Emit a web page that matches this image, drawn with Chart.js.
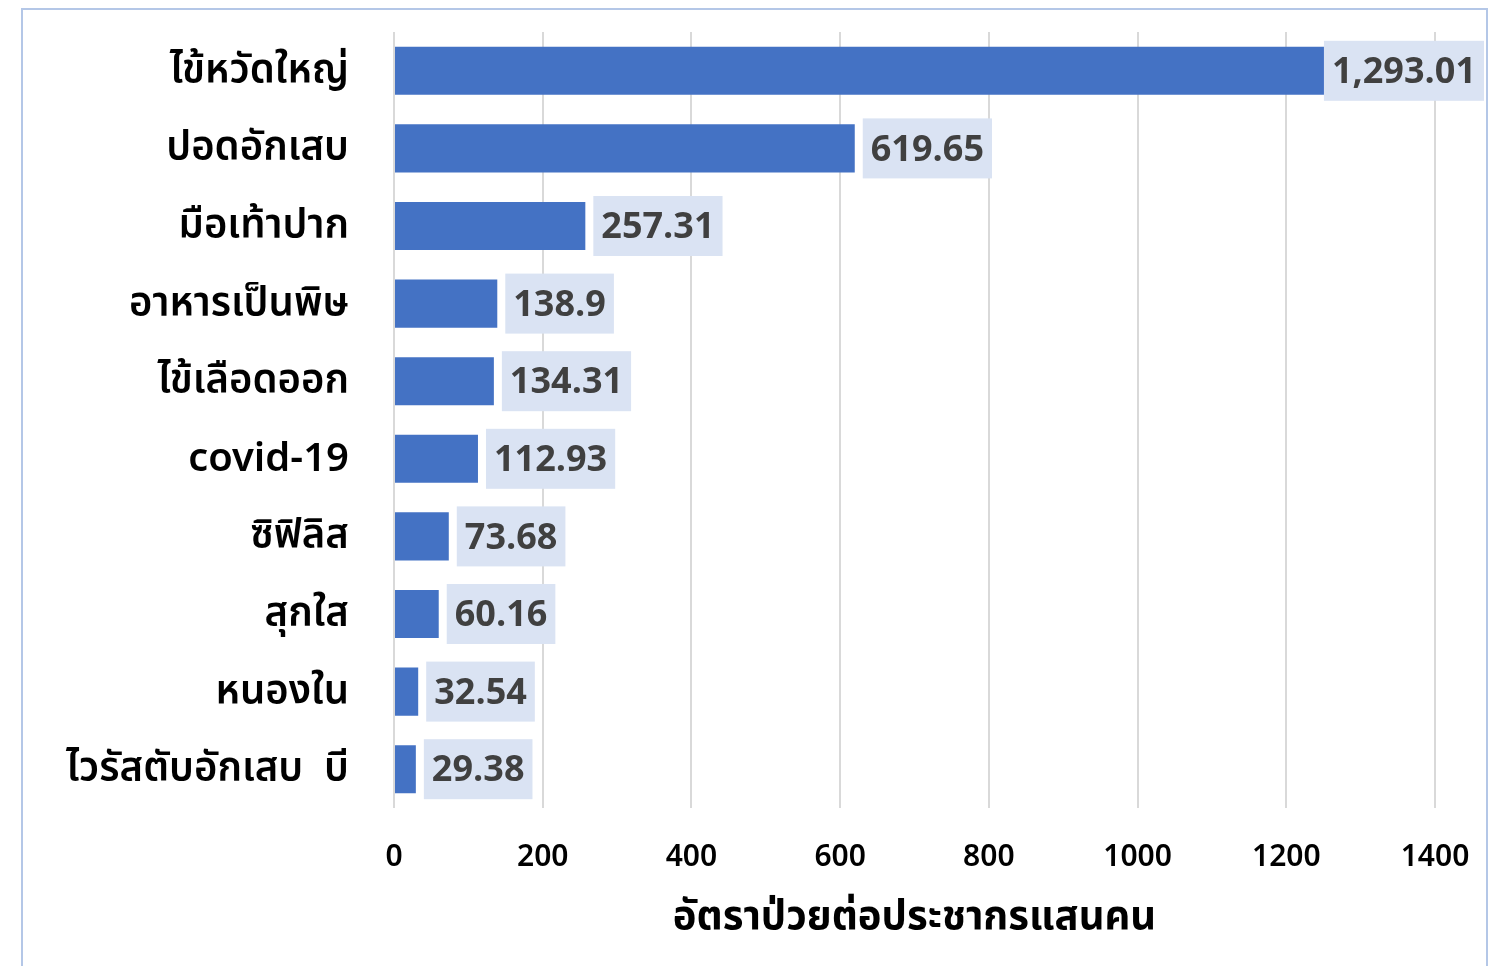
<!DOCTYPE html>
<html>
<head>
<meta charset="utf-8">
<script src="https://cdn.jsdelivr.net/npm/chart.js@4.4.1/dist/chart.umd.min.js"></script>
<style>
  body { margin: 0; background: #fff; }
  #wrap { position: relative; width: 1499px; height: 966px; overflow: hidden; }
  #frame { position: absolute; left: 21px; top: 8px; width: 1463px; height: 1000px; border: 2px solid #b4c7e7; }
  canvas { position: absolute; left: 0; top: 0; }
</style>
</head>
<body>
<div id="wrap">
  <div id="frame"></div>
  <canvas id="diseaseChart" width="1499" height="966"></canvas>
</div>
<script>
const diseases = ['ไข้หวัดใหญ่', 'ปอดอักเสบ', 'มือเท้าปาก', 'อาหารเป็นพิษ', 'ไข้เลือดออก', 'covid-19', 'ซิฟิลิส', 'สุกใส', 'หนองใน', 'ไวรัสตับอักเสบ  บี'];
const rates = [1293.01, 619.65, 257.31, 138.9, 134.31, 112.93, 73.68, 60.16, 32.54, 29.38];
const xTicks = [0, 200, 400, 600, 800, 1000, 1200, 1400];
const axisTitle = 'อัตราป่วยต่อประชากรแสนคน';

const FONT = '"Noto Sans Thai", "Noto Sans", sans-serif';

// value labels drawn in a light blue box right of each bar
const valueBoxes = {
  id: 'valueBoxes',
  afterDatasetsDraw(chart) {
    const ctx = chart.ctx;
    const meta = chart.getDatasetMeta(0);
    ctx.save();
    ctx.font = 'bold 36px ' + FONT;
    ctx.textBaseline = 'middle';
    meta.data.forEach((bar, i) => {
      const txt = rates[i].toLocaleString('en-US', { maximumFractionDigits: 2 });
      const w = ctx.measureText(txt).width + 16;
      const h = 60;
      let x = bar.x + 8;
      if (x + w > 1484) x = 1484 - w;
      ctx.fillStyle = '#dae3f3';
      ctx.fillRect(x, bar.y - h / 2, w, h);
      ctx.fillStyle = '#404040';
      ctx.fillText(txt, x + 8, bar.y + 5);
    });
    ctx.restore();
  }
};

const ctx = document.getElementById('diseaseChart').getContext('2d');
new Chart(ctx, {
  type: 'bar',
  data: {
    labels: diseases,
    datasets: [{
      data: rates,
      backgroundColor: '#4472c4',
      barPercentage: 0.62,
      categoryPercentage: 1
    }]
  },
  options: {
    indexAxis: 'y',
    responsive: false,
    animation: false,
    layout: { padding: { top: 32, right: 64, bottom: 17, left: 0 } },
    plugins: {
      legend: { display: false },
      tooltip: { enabled: false }
    },
    scales: {
      x: {
        min: 0,
        max: 1400,
        afterBuildTicks: scale => { scale.ticks = xTicks.map(v => ({ value: v })); },
        afterFit: scale => {
          scale.height = 141;
          scale.paddingLeft = 0;
          scale.paddingRight = 0;
        },
        grid: { color: '#d9d9d9', lineWidth: 2, drawTicks: false },
        border: { display: false },
        ticks: {
          color: '#000', padding: 34,
          font: { family: FONT, size: 30, weight: '600' },
          callback: v => String(v)
        },
        title: { display: true, text: axisTitle, color: '#000', font: { family: FONT, size: 40, weight: 'bold' } }
      },
      y: {
        afterFit: scale => {
          scale.width = 394;
          scale.paddingTop = 0;
          scale.paddingBottom = 0;
        },
        grid: { display: false, drawTicks: false },
        border: { display: false },
        ticks: { color: '#000', padding: 45, labelOffset: 4, font: { family: FONT, size: 40, weight: '600' } }
      }
    }
  },
  plugins: [valueBoxes]
});
</script>
</body>
</html>
